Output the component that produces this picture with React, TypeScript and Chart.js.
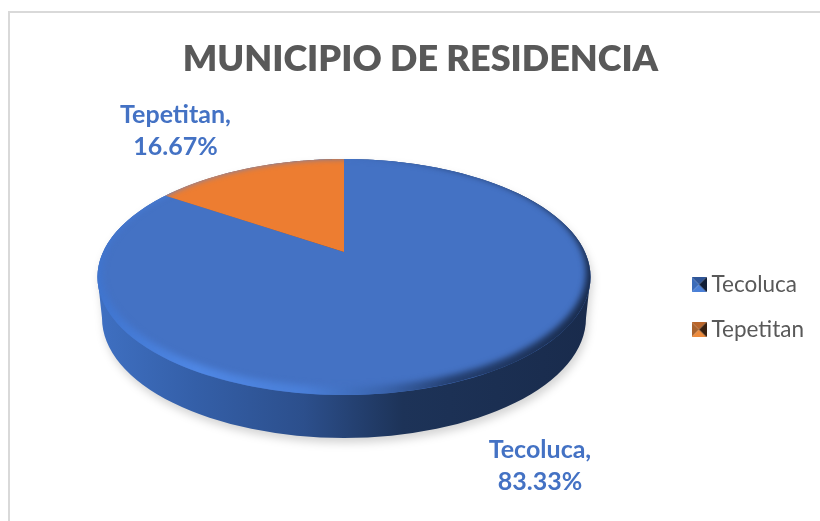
import React, { useEffect, useRef } from "react";
import { Chart, registerables } from "chart.js";

Chart.register(...registerables);

const titleText = "MUNICIPIO DE RESIDENCIA";
const categories = ["Tecoluca", "Tepetitan"];
const shares = [83.33, 16.67];
const sliceColors = ["#4472C4", "#ED7D31"];
const legendShades = [
  ["#2F5597", "#3B6BB8", "#4A80D8", "#121F36"],
  ["#B9652A", "#A8622D", "#EE8B3C", "#38200F"],
];

const FONT = "Lato, Carlito, Calibri, sans-serif";
const TOP = { cx: 344, cy: 277, rx: 246.5, ry: 118 };
const BOTTOM = { cx: 344, cy: 318, rx: 242, ry: 120 };
const APEX_Y = 252;

function project(t: number) {
  // t = clockwise angle from 12 o'clock; perspective of the tilted disc
  const c = -0.212;
  const a = 59.3;
  const R = 240.9;
  let tt = t;
  const s = 2 * Math.PI - t;
  if (s < Math.PI) tt = 2 * Math.PI - s * (0.9 + (0.1 * s) / Math.PI);
  const u = Math.sin(tt);
  const v = -Math.cos(tt);
  const w = 1 + c * v;
  return { x: TOP.cx + (R * u) / w, y: (a * v + APEX_Y) / w };
}

function ell(ctx: CanvasRenderingContext2D, e: { cx: number; cy: number; rx: number; ry: number }) {
  ctx.ellipse(e.cx, e.cy, e.rx, e.ry, 0, 0, Math.PI * 2);
}

function bodyPath(ctx: CanvasRenderingContext2D) {
  ctx.beginPath();
  ell(ctx, BOTTOM);
  ctx.closePath();
  ctx.moveTo(TOP.cx - TOP.rx, TOP.cy);
  ctx.lineTo(TOP.cx + TOP.rx, TOP.cy);
  ctx.lineTo(BOTTOM.cx + BOTTOM.rx, BOTTOM.cy);
  ctx.lineTo(BOTTOM.cx - BOTTOM.rx, BOTTOM.cy);
  ctx.closePath();
  ctx.moveTo(TOP.cx + TOP.rx, TOP.cy);
  ell(ctx, TOP);
}

const disc3d = {
  id: "disc3d",
  beforeDraw(chart: any) {
    const { ctx, width } = chart;
    ctx.save();
    ctx.fillStyle = "#fff";
    ctx.fillRect(0, 0, width, chart.height);
    ctx.fillStyle = "#D9D9D9";
    ctx.fillRect(8, 11, width - 8, 2);
    ctx.fillRect(8, 11, 2, chart.height - 11);
    ctx.restore();
  },
  beforeDatasetDraw(chart: any, args: any) {
    const { ctx } = chart;
    const meta = args.meta;
    ctx.save();
    // soft shadow on the ground
    ctx.save();
    ctx.filter = "blur(4px)";
    ctx.fillStyle = "rgba(0,0,0,0.17)";
    ctx.translate(2, 5);
    bodyPath(ctx);
    ctx.fill("nonzero");
    ctx.restore();

    // side wall
    const side = ctx.createLinearGradient(97, 0, 590, 0);
    side.addColorStop(0, "#3F70C2");
    side.addColorStop(0.2, "#345FA8");
    side.addColorStop(0.42, "#2C4F8C");
    side.addColorStop(0.62, "#1D3358");
    side.addColorStop(1, "#192B4C");
    ctx.fillStyle = side;
    bodyPath(ctx);
    ctx.fill("nonzero");

    // slices of the top face, from the arcs the library computed
    meta.data.forEach((arc: any) => {
      const { startAngle, endAngle } = arc.getProps(["startAngle", "endAngle"], true);
      const t0 = startAngle + Math.PI / 2;
      const t1 = endAngle + Math.PI / 2;
      const steps = 360;
      ctx.beginPath();
      ctx.moveTo(TOP.cx, APEX_Y);
      for (let k = 0; k <= steps; k++) {
        const p = project(t0 + ((t1 - t0) * k) / steps);
        ctx.lineTo(p.x, p.y);
      }
      ctx.closePath();
      ctx.fillStyle = arc.options.backgroundColor;
      ctx.fill();
    });

    // bevel rim
    ctx.save();
    ctx.beginPath();
    ell(ctx, TOP);
    ctx.clip();
    const rim = ctx.createLinearGradient(97, 0, 590, 0);
    rim.addColorStop(0, "#3F74CE");
    rim.addColorStop(0.2, "#4F87E4");
    rim.addColorStop(0.42, "#4A7FD8");
    rim.addColorStop(0.58, "#3A64AD");
    rim.addColorStop(0.72, "#243F70");
    rim.addColorStop(1, "#192B4C");
    ctx.filter = "blur(3px)";
    ctx.fillStyle = rim;
    ctx.beginPath();
    ctx.rect(60, 120, 570, 340);
    ctx.ellipse(TOP.cx, 272.5, 242, 114.5, 0, 0, Math.PI * 2);
    ctx.fill("evenodd");
    ctx.restore();
    ctx.restore();
    return false;
  },
  afterDatasetsDraw(chart: any) {
    const { ctx } = chart;
    ctx.save();
    ctx.font = `bold 25px ${FONT}`;
    ctx.fillStyle = "#4472C4";
    ctx.textAlign = "center";
    ctx.textBaseline = "middle";
    const spots = [
      { x: 540, y: 450 },
      { x: 175.5, y: 115 },
    ];
    categories.forEach((name, i) => {
      ctx.fillText(`${name},`, spots[i].x, spots[i].y);
      ctx.fillText(`${shares[i].toFixed(2)}%`, spots[i].x, spots[i].y + 32);
    });
    ctx.restore();
  },
};

function marker(shades: string[]) {
  const c = document.createElement("canvas");
  c.width = 15;
  c.height = 15;
  const g = c.getContext("2d")!;
  const m = 7.5;
  const tri = (pts: number[], col: string) => {
    g.fillStyle = col;
    g.beginPath();
    g.moveTo(pts[0], pts[1]);
    g.lineTo(pts[2], pts[3]);
    g.lineTo(m, m);
    g.closePath();
    g.fill();
  };
  tri([0, 0, 15, 0], shades[0]);
  tri([0, 15, 0, 0], shades[1]);
  tri([15, 15, 0, 15], shades[2]);
  tri([15, 0, 15, 15], shades[3]);
  return c;
}

export default function App() {
  const ref = useRef<HTMLCanvasElement>(null);
  useEffect(() => {
    const chart = new Chart(ref.current!, {
      type: "pie",
      data: {
        labels: categories,
        datasets: [{ data: shares, backgroundColor: sliceColors, borderWidth: 0 }],
      },
      plugins: [disc3d],
      options: {
        responsive: false,
        animation: false,
        layout: { padding: { left: 27, right: 6, top: 0, bottom: 0 } },
        plugins: {
          tooltip: { enabled: false },
          title: {
            display: true,
            text: titleText,
            color: "#595959",
            font: { family: FONT, size: 36, weight: "800" },
            padding: { top: 38, bottom: 12 },
          },
          legend: {
            position: "right",
            fullSize: false,
            labels: {
              usePointStyle: true,
              pointStyleWidth: 2.5,
              color: "#595959",
              font: { family: FONT, size: 22.5 },
              padding: 22.5,
              generateLabels: () =>
                categories.map((name, i) => ({
                  text: name,
                  fontColor: "#595959",
                  fillStyle: sliceColors[i],
                  strokeStyle: sliceColors[i],
                  lineWidth: 0,
                  pointStyle: marker(legendShades[i]),
                  hidden: false,
                  index: i,
                })),
            },
          },
        },
      },
    } as any);
    return () => chart.destroy();
  }, []);
  return (
    <div style={{ position: "absolute", left: 0, top: 0, width: 820, height: 521, background: "#fff" }}>
      <canvas ref={ref} width={820} height={521} style={{ display: "block" }} />
    </div>
  );
}
